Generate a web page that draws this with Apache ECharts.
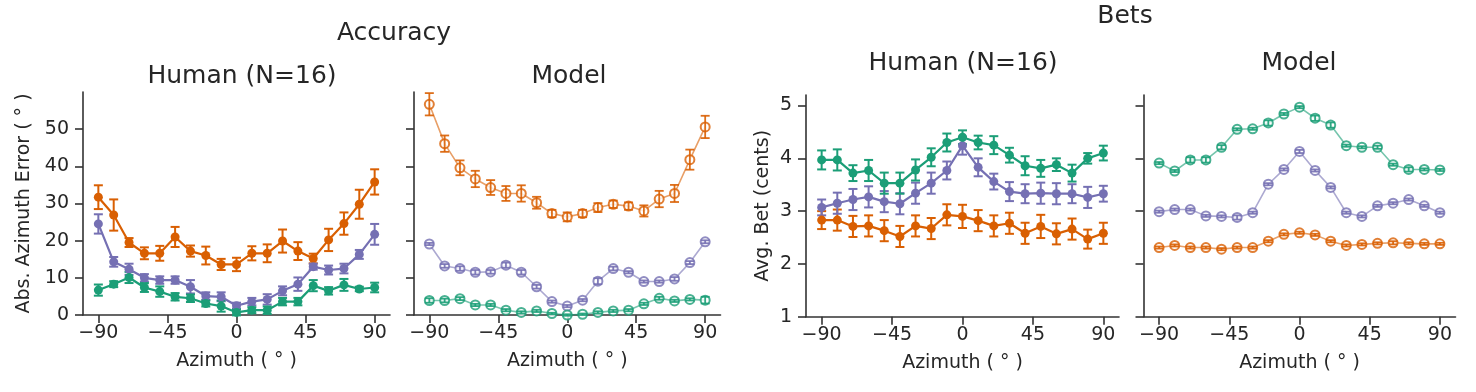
<!DOCTYPE html>
<html>
<head>
<meta charset="utf-8">
<script src="https://cdn.jsdelivr.net/npm/echarts@6/dist/echarts.min.js"></script>
<style>
  html, body { margin: 0; padding: 0; background: #ffffff; }
  #chart { width: 1476px; height: 392px; }
</style>
</head>
<body>
<div id="chart"></div>
<script>
// ---------------- data ----------------
const azimuth = [-90,-80,-70,-60,-50,-40,-30,-20,-10,0,10,20,30,40,50,60,70,80,90];
const xTickValues = [-90,-45,0,45,90];
const accYTicks = [0,10,20,30,40,50];
const betYTicks = [1,2,3,4,5];

const panelTitles = ['Human (N=16)', 'Model', 'Human (N=16)', 'Model'];
const groupTitles = ['Accuracy', 'Bets'];
const xAxisName = 'Azimuth ( \u00B0 )';
const accYName = 'Abs. Azimuth Error ( \u00B0 )';
const betYName = 'Avg. Bet (cents)';

// Accuracy – human
const accHumanOrange    = [31.7,26.9,19.5,16.6,16.6,21.0,17.2,16.0,13.6,13.6,16.6,16.6,19.9,17.2,15.2,20.2,24.6,29.8,35.8];
const accHumanOrangeErr = [3.2,4.2,1.2,1.6,2.0,2.7,1.5,2.4,1.5,1.8,1.9,2.4,3.1,2.4,1.3,3.0,3.0,3.9,3.4];
const accHumanPurple    = [24.5,14.3,12.3,10.0,9.4,9.4,7.6,5.1,4.9,2.5,3.6,4.2,6.5,8.3,13.0,12.1,12.5,16.3,21.7];
const accHumanPurpleErr = [2.6,1.3,1.5,1.0,1.0,1.0,1.8,1.0,1.2,0.8,1.0,1.4,1.2,1.8,0.8,1.2,1.3,1.2,2.8];
const accHumanGreen     = [6.7,8.3,10.1,7.4,6.3,4.9,4.5,3.1,2.4,0.7,1.3,1.3,3.6,3.6,7.9,6.5,8.1,7.0,7.4];
const accHumanGreenErr  = [1.5,0.8,1.5,1.2,1.4,1.0,1.0,0.8,1.5,0.8,0.8,1.0,1.0,1.0,1.5,1.0,1.6,0.6,1.3];

// Accuracy – model
const accModelOrange    = [56.7,46.1,39.6,36.6,34.3,32.7,32.7,30.2,27.3,26.4,27.3,28.9,29.8,29.3,28.0,31.2,32.7,41.8,50.6];
const accModelOrangeErr = [3.0,2.2,2.0,2.2,2.0,2.0,2.2,1.6,1.0,1.2,1.0,1.2,1.0,1.0,1.5,2.2,2.3,2.7,3.0];
const accModelPurple    = [19.1,13.2,12.5,11.5,11.6,13.4,11.5,7.6,3.6,2.4,4.0,9.1,12.5,11.5,9.0,9.0,9.7,14.1,19.7];
const accModelPurpleErr = [0.3,0.5,0.6,0.6,0.5,0.7,0.6,0.5,0.3,0.3,0.3,0.8,0.5,0.3,0.3,0.3,0.5,0.4,0.4];
const accModelGreen     = [3.9,3.9,4.4,2.7,2.7,1.3,0.7,1.1,0.4,0.0,0.2,0.7,1.1,1.3,3.0,4.5,3.8,4.2,4.0];
const accModelGreenErr  = [0.6,0.5,0.4,0.3,0.3,0.3,0.3,0.3,0.2,0.2,0.2,0.3,0.3,0.3,0.3,0.4,0.3,0.3,0.9];

// Bets – human
const betHumanGreen     = [3.97,3.97,3.72,3.77,3.53,3.53,3.78,4.02,4.30,4.40,4.30,4.25,4.06,3.86,3.81,3.88,3.72,4.00,4.10];
const betHumanGreenErr  = [0.18,0.20,0.15,0.20,0.20,0.20,0.20,0.17,0.17,0.13,0.13,0.17,0.14,0.18,0.16,0.12,0.16,0.10,0.14];
const betHumanPurple    = [3.07,3.15,3.22,3.27,3.18,3.14,3.34,3.53,3.77,4.24,3.83,3.56,3.37,3.33,3.34,3.33,3.33,3.26,3.33];
const betHumanPurpleErr = [0.15,0.20,0.20,0.20,0.20,0.20,0.20,0.20,0.17,0.17,0.17,0.15,0.18,0.18,0.20,0.20,0.18,0.20,0.15];
const betHumanOrange    = [2.83,2.83,2.71,2.72,2.63,2.52,2.72,2.67,2.93,2.90,2.82,2.72,2.77,2.58,2.71,2.57,2.66,2.47,2.58];
const betHumanOrangeErr = [0.17,0.20,0.20,0.20,0.20,0.20,0.20,0.20,0.20,0.22,0.20,0.20,0.20,0.20,0.22,0.20,0.20,0.18,0.20];

// Bets – model
const betModelGreen     = [3.91,3.76,3.97,3.97,4.21,4.55,4.56,4.67,4.84,4.97,4.76,4.63,4.24,4.21,4.21,3.88,3.79,3.79,3.78];
const betModelGreenErr  = [0.02,0.02,0.05,0.05,0.04,0.02,0.02,0.05,0.02,0.02,0.05,0.05,0.02,0.02,0.03,0.02,0.04,0.02,0.02];
const betModelPurple    = [2.99,3.03,3.03,2.91,2.90,2.88,2.97,3.51,3.79,4.13,3.77,3.45,2.97,2.90,3.10,3.15,3.22,3.10,2.97];
const betModelPurpleErr = [0.02,0.02,0.02,0.02,0.02,0.04,0.02,0.02,0.02,0.03,0.02,0.02,0.02,0.02,0.02,0.02,0.02,0.02,0.02];
const betModelOrange    = [2.31,2.35,2.31,2.31,2.28,2.31,2.31,2.43,2.56,2.59,2.55,2.43,2.35,2.37,2.39,2.40,2.39,2.38,2.38];
const betModelOrangeErr = [0.02,0.02,0.02,0.02,0.02,0.02,0.02,0.02,0.02,0.02,0.02,0.02,0.02,0.02,0.02,0.03,0.02,0.02,0.02];

// ---------------- styling ----------------
const ORANGE = '#d95f02', PURPLE = '#7570b3', GREEN = '#1b9e77';
const TEXT = '#262626', AXIS = '#333333';
const FONT = 'DejaVu Sans';

const grids = [
  { left: 83,     top: 92, width: 307,   height: 223 },
  { left: 414,    top: 92, width: 306.5, height: 223 },
  { left: 806,    top: 95, width: 313,   height: 221.7 },
  { left: 1143.5, top: 95, width: 312,   height: 221.7 }
];

function fmtTick(v) { return v < 0 ? '\u2212' + Math.abs(v) : String(v); }

const xAxes = grids.map((g, i) => ({
  type: 'value', gridIndex: i, min: -100, max: 100,
  name: xAxisName, nameLocation: 'middle', nameGap: 37,
  nameTextStyle: { fontSize: 19, fontFamily: FONT, color: TEXT },
  axisLine: { onZero: false, lineStyle: { color: AXIS, width: 1.6 } },
  axisTick: { customValues: xTickValues, length: 8, lineStyle: { color: AXIS, width: 1.6 } },
  axisLabel: { customValues: xTickValues, formatter: fmtTick, margin: 9,
               fontSize: 19, fontFamily: FONT, color: TEXT },
  splitLine: { show: false }
}));

const yAxes = grids.map((g, i) => {
  const isAcc = i < 2;
  const ticks = isAcc ? accYTicks : betYTicks;
  const showLab = (i === 0 || i === 2);
  return {
    type: 'value', gridIndex: i,
    min: isAcc ? 0 : 1, max: isAcc ? 60 : 5.2,
    name: i === 0 ? accYName : (i === 2 ? betYName : ''),
    nameLocation: 'middle', nameGap: i === 0 ? 49 : 33, nameRotate: 90,
    nameTextStyle: { fontSize: 19, fontFamily: FONT, color: TEXT },
    axisLine: { show: true, onZero: false, lineStyle: { color: AXIS, width: 1.6 } },
    axisTick: { show: true, customValues: ticks, length: 8, lineStyle: { color: AXIS, width: 1.6 } },
    axisLabel: { show: showLab, customValues: ticks, formatter: fmtTick, margin: 14,
                 fontSize: 19, fontFamily: FONT, color: TEXT },
    splitLine: { show: false }
  };
});

function zipXY(vals) { return azimuth.map((x, k) => [x, vals[k]]); }
function zipErr(vals, errs) { return azimuth.map((x, k) => [x, vals[k] - errs[k], vals[k] + errs[k]]); }

function errSeries(idx, vals, errs, color, width, opacity) {
  return {
    type: 'custom', xAxisIndex: idx, yAxisIndex: idx, silent: true, z: 3,
    data: zipErr(vals, errs),
    encode: { x: 0, y: [1, 2] },
    renderItem: function (params, api) {
      const x = api.value(0);
      const lo = api.coord([x, api.value(1)]);
      const hi = api.coord([x, api.value(2)]);
      const c = 4.5;
      const st = { stroke: color, lineWidth: width, opacity: opacity };
      return { type: 'group', children: [
        { type: 'line', shape: { x1: lo[0], y1: lo[1], x2: hi[0], y2: hi[1] }, style: st },
        { type: 'line', shape: { x1: lo[0] - c, y1: lo[1], x2: lo[0] + c, y2: lo[1] }, style: st },
        { type: 'line', shape: { x1: hi[0] - c, y1: hi[1], x2: hi[0] + c, y2: hi[1] }, style: st }
      ]};
    }
  };
}

function humanSeries(idx, vals, errs, color) {
  return [
    errSeries(idx, vals, errs, color, 2, 1),
    {
      type: 'line', xAxisIndex: idx, yAxisIndex: idx, z: 4,
      data: zipXY(vals), symbol: 'circle', symbolSize: 9,
      lineStyle: { color: color, width: 2.2 },
      itemStyle: { color: color },
      emphasis: { disabled: true }, animation: false
    }
  ];
}

function modelSeries(idx, vals, errs, color) {
  return [
    {
      type: 'line', xAxisIndex: idx, yAxisIndex: idx, z: 2,
      data: zipXY(vals), symbol: 'emptyCircle', symbolSize: 9,
      lineStyle: { color: color, width: 1.6, opacity: 0.6 },
      itemStyle: { color: color, borderColor: color, borderWidth: 1.5, opacity: 0.8 },
      emphasis: { disabled: true }, animation: false
    },
    errSeries(idx, vals, errs, color, 1.8, 0.9)
  ];
}

const series = [].concat(
  humanSeries(0, accHumanOrange, accHumanOrangeErr, ORANGE),
  humanSeries(0, accHumanPurple, accHumanPurpleErr, PURPLE),
  humanSeries(0, accHumanGreen,  accHumanGreenErr,  GREEN),
  modelSeries(1, accModelOrange, accModelOrangeErr, ORANGE),
  modelSeries(1, accModelPurple, accModelPurpleErr, PURPLE),
  modelSeries(1, accModelGreen,  accModelGreenErr,  GREEN),
  humanSeries(2, betHumanOrange, betHumanOrangeErr, ORANGE),
  humanSeries(2, betHumanPurple, betHumanPurpleErr, PURPLE),
  humanSeries(2, betHumanGreen,  betHumanGreenErr,  GREEN),
  modelSeries(3, betModelOrange, betModelOrangeErr, ORANGE),
  modelSeries(3, betModelPurple, betModelPurpleErr, PURPLE),
  modelSeries(3, betModelGreen,  betModelGreenErr,  GREEN)
);

function titleText(text, x, y) {
  return { type: 'text', x: x, y: y, silent: true,
           style: { text: text, fontSize: 25, fontFamily: FONT, fill: TEXT,
                    align: 'center', verticalAlign: 'middle' } };
}

const graphic = [
  titleText(groupTitles[0], 394, 33),
  titleText(groupTitles[1], 1125, 16),
  titleText(panelTitles[0], 242, 76),
  titleText(panelTitles[1], 569, 76),
  titleText(panelTitles[2], 963, 63),
  titleText(panelTitles[3], 1299, 63)
];

const chart = echarts.init(document.getElementById('chart'), null, { renderer: 'canvas' });
chart.setOption({
  animation: false,
  backgroundColor: '#ffffff',
  grid: grids.map(g => Object.assign({ containLabel: false, outerBoundsMode: 'none' }, g)),
  xAxis: xAxes,
  yAxis: yAxes,
  series: series,
  graphic: graphic
});
</script>
</body>
</html>
